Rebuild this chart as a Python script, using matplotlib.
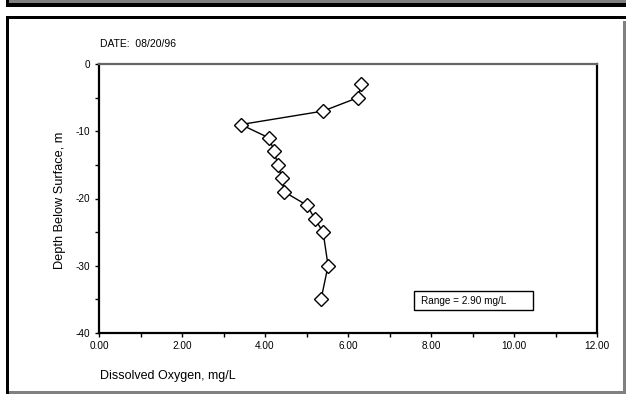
import numpy as np
import matplotlib
matplotlib.use('Agg')
import matplotlib.pyplot as plt
from matplotlib.patches import Rectangle

plt.rcParams['font.family'] = ['Liberation Sans', 'DejaVu Sans']
plt.rcParams['axes.unicode_minus'] = False

# dissolved oxygen profile, 08/20/96
oxygen = [6.32, 6.24, 5.40, 3.42, 4.10, 4.22, 4.31, 4.41, 4.46, 5.01, 5.20, 5.40, 5.52, 5.35]
depth = [-3, -5, -7, -9, -11, -13, -15, -17, -19, -21, -23, -25, -30, -35]
x_ticks = [0, 2, 4, 6, 8, 10, 12]
y_ticks = [0, -10, -20, -30, -40]
date_label = 'DATE:  08/20/96'
range_label = 'Range = 2.90 mg/L'

W, H = 626, 394
fig = plt.figure(figsize=(W / 100, H / 100), dpi=100)

def fx(px):
    return px / W

def fy(py):
    return 1 - py / H

def rect(x0, y0, x1, y1, color):
    # filled block given in pixel coords (y down)
    fig.add_artist(Rectangle((fx(x0), fy(y1)), fx(x1) - fx(x0), fy(y0) - fy(y1),
                             transform=fig.transFigure, facecolor=color, edgecolor='none'))

# outer frame
rect(8, 0, W, 3.5, '#808080')
rect(8, 3.5, W, 6.7, 'black')
rect(6, 0, 8.5, 6.7, 'black')
rect(6, 15.5, W, 19, 'black')
rect(6, 15.5, 9, H, 'black')
rect(623, 21, W, H, '#808080')
rect(9, 391, W, H, '#808080')

ax = fig.add_axes([fx(99), fy(333), fx(597) - fx(99), fy(64) - fy(333)])
ax.plot(oxygen, depth, color='black', lw=1.0, marker='D', markersize=6.8,
        markerfacecolor='white', markeredgecolor='black', markeredgewidth=1.0)

ax.set_xlim(0, 12)
ax.set_ylim(-40, 0)
ax.set_xticks(x_ticks)
ax.set_xticklabels(['%.2f' % v for v in x_ticks])
ax.set_xticks(np.arange(1, 12, 2), minor=True)
ax.set_yticks(y_ticks)
ax.set_yticks([-5, -15, -25, -35], minor=True)
ax.tick_params(axis='both', which='both', direction='out', length=3, width=1, labelsize=7.2, pad=3)

for s in ['left', 'bottom', 'right']:
    ax.spines[s].set_linewidth(1.6)
    ax.spines[s].set_color('black')
ax.spines['top'].set_color('#666666')
ax.spines['top'].set_linewidth(1.6)

fig.text(fx(100), fy(44), date_label, fontsize=7.5, va='center', ha='left')
fig.text(fx(60), fy(200), 'Depth Below Surface, m', fontsize=9.2, rotation=90, va='center', ha='center')
fig.text(fx(100), fy(376), 'Dissolved Oxygen, mg/L', fontsize=9, va='center', ha='left')

fig.add_artist(Rectangle((fx(414), fy(310)), fx(533) - fx(414), fy(291) - fy(310),
                         transform=fig.transFigure, facecolor='white', edgecolor='black', lw=1.0))
fig.text(fx(421), fy(300.5), range_label, fontsize=7.2, va='center', ha='left')

fig.savefig('out.png', dpi=100)
